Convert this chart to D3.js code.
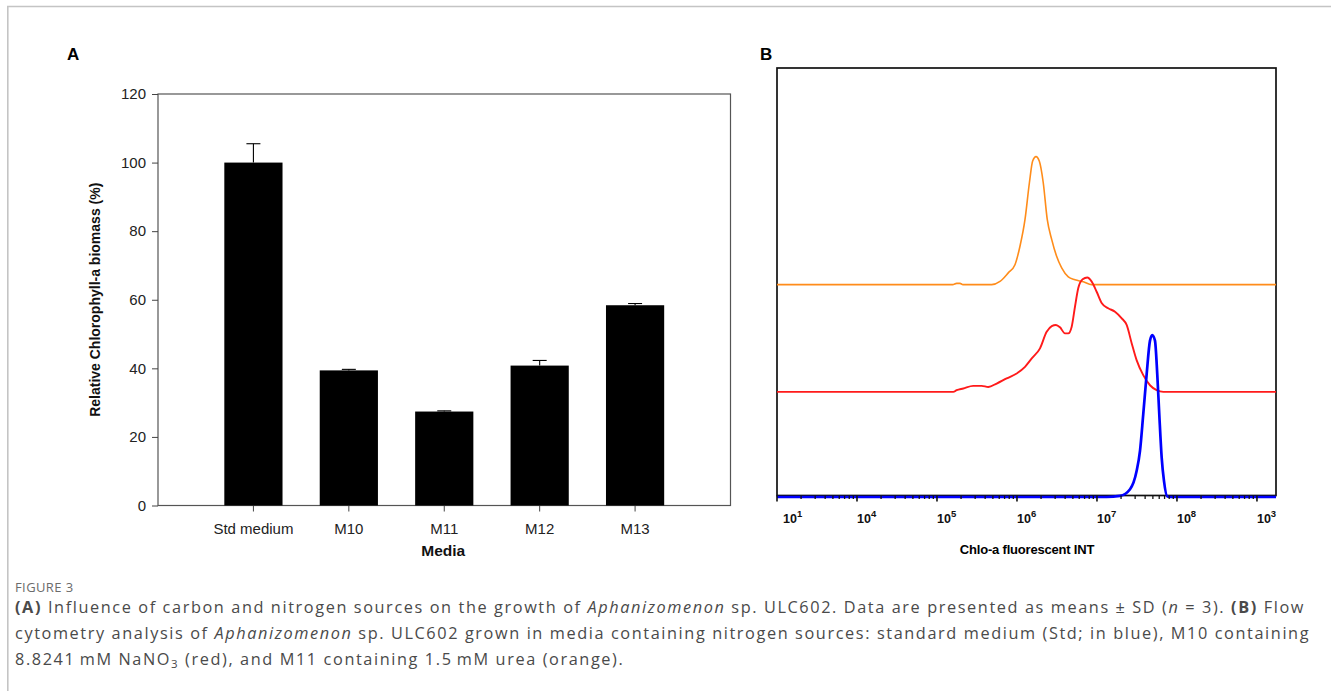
<!DOCTYPE html>
<html>
<head>
<meta charset="utf-8">
<script src="https://cdn.jsdelivr.net/npm/d3@7"></script>
<style>
  body { margin: 0; background: #fff; }
  svg { display: block; }
</style>
</head>
<body>
<svg width="1331" height="691"></svg>
<script>
//## DATA ##
//-- Panel A: chlorophyll-a biomass per medium --
const media = ['Std medium', 'M10', 'M11', 'M12', 'M13']
const chlMean = [100, 39.4, 27.4, 40.8, 58.4]
const chlSd = [5.5, 0.3, 0.2, 1.5, 0.5]
const yTicksA = [0, 20, 40, 60, 80, 100, 120]

//-- Panel B: flow cytometry histograms [intensity, count] --
const stdCurve = [[1e3, 0], [1.32e7, 0], [1.94e7, 0.5], [2.59e7, 3.6], [3.13e7, 12.1], [3.45e7, 21.5],
  [3.79e7, 38.6], [4.18e7, 57.3], [4.6e7, 72.9], [4.91e7, 75.5], [5.31e7, 72.9], [5.67e7, 57.3],
  [6.01e7, 38.6], [6.44e7, 18.4], [6.88e7, 7.5], [7.57e7, 0.2], [8.18e7, 0], [1.73e9, 0]]
const m10Curve = [[1e3, 0], [1.6e5, 0], [1.76e5, 0.8], [2.13e5, 1.6], [2.84e5, 2.8], [3.62e5, 2.8],
  [4.38e5, 2.3], [5.57e5, 3.9], [7.43e5, 6.3], [9.91e5, 8.6], [1.26e6, 11.7], [1.53e6, 15.6],
  [1.94e6, 20.3], [2.35e6, 28.0], [2.72e6, 30.7], [3.07e6, 31.2], [3.45e6, 30.1], [3.98e6, 27.3],
  [4.38e6, 27.3], [4.83e6, 30.4], [5.31e6, 39.7], [5.83e6, 48.3], [6.62e6, 52.5], [7.57e6, 53.3],
  [8.59e6, 51.4], [9.91e6, 46.7], [1.15e7, 41.3], [1.38e7, 39.0], [1.68e7, 37.4], [2.04e7, 34.3],
  [2.35e7, 31.2], [2.72e7, 22.6], [3.13e7, 14.8], [3.79e7, 7.8], [4.6e7, 3.1], [5.57e7, 0.8],
  [6.75e7, 0], [1.73e9, 0]]
const m11Curve = [[1e3, 0], [1.57e5, 0], [1.76e5, 0.6], [1.94e5, 0.6], [2.11e5, 0], [4.83e5, 0],
  [6.13e5, 1.5], [7.78e5, 5.5], [9.44e5, 9.3], [1.09e6, 17.9], [1.26e6, 30.4], [1.43e6, 47.5],
  [1.57e6, 57.6], [1.73e6, 59.7], [1.9e6, 57.6], [2.13e6, 47.5], [2.39e6, 30.4], [2.72e6, 21.0],
  [3.13e6, 13.2], [3.62e6, 7.8], [4.38e6, 3.6], [5.31e6, 2.3], [6.75e6, 1.3], [8.59e6, 0], [1.73e9, 0]]
const curveNames = ['m11', 'm10', 'std']
const curveColors = ['#ff8c1a', '#ff1a1a', '#0000ff']
const curveOffsets = [99, 49, 0]
const curveWidths = [1.6, 1.9, 2.7]
const xTickDecades = [1e3, 1e4, 1e5, 1e6, 1e7, 1e8, 1e9]
const xTickExponents = ['1', '4', '5', '6', '7', '8', '3']

//-- Caption --
const captionLines = [
  [['(A)', 'b'], [' Influence of carbon and nitrogen sources on the growth of ', ''], ['Aphanizomenon', 'i'],
    [' sp. ULC602. Data are presented as means ± SD (', ''], ['n', 'i'], [' = 3). ', ''], ['(B)', 'b'], [' Flow', '']],
  [['cytometry analysis of ', ''], ['Aphanizomenon', 'i'],
    [' sp. ULC602 grown in media containing nitrogen sources: standard medium (Std; in blue), M10 containing', '']],
  [['8.8241\u2009mM NaNO', ''], ['3', 'sub'], [' (red), and M11 containing 1.5\u2009mM urea (orange).', '']]
]

//## SETUP ##
const svg = d3.select('svg')
const chartFont = "'Liberation Sans', Arial, sans-serif"

// figure frame (light border top & left)
svg.append('line').attr('x1', 7).attr('x2', 1331).attr('y1', 6.5).attr('y2', 6.5)
  .attr('stroke', '#c4c4c4').attr('stroke-width', 1.6)
svg.append('line').attr('x1', 7.8).attr('x2', 7.8).attr('y1', 6).attr('y2', 691)
  .attr('stroke', '#c4c4c4').attr('stroke-width', 1.6)

//## PANEL A ##
const a = { left: 158, right: 730.5, top: 94, bottom: 505.5 }
const stepA = (a.right - a.left) / 6
const scaleYA = d3.scaleLinear().domain([0, 120]).range([a.bottom, a.top])
const scaleXA = d3.scaleBand()
  .domain(media)
  .range([a.left + stepA / 2, a.right - stepA / 2])
  .paddingInner(0.39)
  .paddingOuter(0.195)

const gA = svg.append('g').attr('font-family', chartFont)

gA.append('rect')
  .attr('x', a.left).attr('y', a.top)
  .attr('width', a.right - a.left).attr('height', a.bottom - a.top)
  .attr('fill', 'none').attr('stroke', '#555').attr('stroke-width', 1.2)

const yAxisA = gA.append('g')
  .attr('transform', 'translate(' + a.left + ',0)')
  .call(d3.axisLeft(scaleYA).tickValues(yTicksA).tickSize(6).tickPadding(6))
yAxisA.select('.domain').remove()
yAxisA.selectAll('line').attr('stroke', '#444')
yAxisA.selectAll('text').attr('font-size', 15).attr('fill', '#222').attr('font-family', chartFont)

const xAxisA = gA.append('g')
  .attr('transform', 'translate(0,' + a.bottom + ')')
  .call(d3.axisBottom(scaleXA).tickSize(6).tickPadding(12))
xAxisA.select('.domain').remove()
xAxisA.selectAll('line').attr('stroke', '#444')
xAxisA.selectAll('text').attr('font-size', 15).attr('fill', '#222').attr('font-family', chartFont)

gA.selectAll('.bar').data(media)
  .enter().append('rect')
  .attr('class', 'bar')
  .attr('x', d => scaleXA(d))
  .attr('y', (d, i) => scaleYA(chlMean[i]))
  .attr('width', scaleXA.bandwidth())
  .attr('height', (d, i) => scaleYA(0) - scaleYA(chlMean[i]))
  .attr('fill', '#000')

// error bars (upper half only)
const errG = gA.selectAll('.err').data(media).enter().append('g').attr('class', 'err')
  .attr('stroke', '#000').attr('stroke-width', 1.1)
errG.append('line')
  .attr('x1', d => scaleXA(d) + scaleXA.bandwidth() / 2)
  .attr('x2', d => scaleXA(d) + scaleXA.bandwidth() / 2)
  .attr('y1', (d, i) => scaleYA(chlMean[i]))
  .attr('y2', (d, i) => scaleYA(chlMean[i] + chlSd[i]))
errG.append('line')
  .attr('x1', d => scaleXA(d) + scaleXA.bandwidth() / 2 - 7)
  .attr('x2', d => scaleXA(d) + scaleXA.bandwidth() / 2 + 7)
  .attr('y1', (d, i) => scaleYA(chlMean[i] + chlSd[i]))
  .attr('y2', (d, i) => scaleYA(chlMean[i] + chlSd[i]))

gA.append('text')
  .attr('transform', 'translate(100,' + ((a.top + a.bottom) / 2) + ') rotate(-90)')
  .attr('text-anchor', 'middle').attr('font-size', 14).attr('font-weight', 'bold').attr('fill', '#111')
  .text('Relative Chlorophyll-a biomass (%)')

gA.append('text')
  .attr('x', (a.left + a.right) / 2 - 1).attr('y', 556)
  .attr('text-anchor', 'middle').attr('font-size', 15.5).attr('font-weight', 'bold').attr('fill', '#111')
  .text('Media')

svg.append('text').attr('x', 67).attr('y', 60)
  .attr('font-family', chartFont).attr('font-size', 17).attr('font-weight', 'bold').text('A')

//## PANEL B ##
const b = { left: 777, right: 1276, top: 68, bottom: 495.5 }
const scaleXB = d3.scaleLog().domain([1e3, 1.73e9]).range([b.left, b.right])
const scaleYB = d3.scaleLinear().domain([0, 200]).range([497, b.top])

const gB = svg.append('g').attr('font-family', chartFont)

gB.append('rect')
  .attr('x', b.left).attr('y', b.top)
  .attr('width', b.right - b.left).attr('height', b.bottom - b.top)
  .attr('fill', 'none').attr('stroke', '#111').attr('stroke-width', 1.7)

const curves = [m11Curve, m10Curve, stdCurve]
curves.forEach((curve, i) => {
  const line = d3.line()
    .x(d => scaleXB(d[0]))
    .y(d => scaleYB(d[1] + curveOffsets[i]))
    .curve(d3.curveMonotoneX)
  gB.append('path')
    .datum(curve)
    .attr('class', 'curve-' + curveNames[i])
    .attr('d', line)
    .attr('fill', 'none')
    .attr('stroke', curveColors[i])
    .attr('stroke-width', curveWidths[i])
    .attr('stroke-linejoin', 'round')
})

// log axis ticks (major + minor), drawn over the blue baseline
const minorTicks = []
xTickDecades.forEach(dec => {
  for (let k = 2; k <= 9; k++) {
    if (dec * k <= 1.73e9) minorTicks.push(dec * k)
  }
})
gB.selectAll('.minor').data(minorTicks).enter().append('line')
  .attr('x1', d => scaleXB(d)).attr('x2', d => scaleXB(d))
  .attr('y1', b.bottom).attr('y2', b.bottom + 3.5)
  .attr('stroke', '#111').attr('stroke-width', 1.3)
gB.selectAll('.major').data(xTickDecades).enter().append('line')
  .attr('x1', d => scaleXB(d)).attr('x2', d => scaleXB(d))
  .attr('y1', b.bottom).attr('y2', b.bottom + 6)
  .attr('stroke', '#111').attr('stroke-width', 1.6)

const tickLabels = gB.selectAll('.tlab').data(xTickDecades).enter().append('text')
  .attr('x', (d, i) => scaleXB(d) + (i === 0 ? 6 : 0))
  .attr('y', 523)
  .attr('font-size', 12.5).attr('font-weight', 'bold').attr('fill', '#111')
tickLabels.append('tspan').text('10')
tickLabels.append('tspan').attr('dy', -6).attr('font-size', 9.5).text((d, i) => xTickExponents[i])

gB.append('text')
  .attr('x', 1027).attr('y', 554)
  .attr('text-anchor', 'middle').attr('font-size', 13).attr('font-weight', 'bold').attr('fill', '#000')
  .attr('letter-spacing', -0.2)
  .text('Chlo-a fluorescent INT')

svg.append('text').attr('x', 760).attr('y', 60)
  .attr('font-family', chartFont).attr('font-size', 17).attr('font-weight', 'bold').text('B')

//## CAPTION ##
const capFont = "'Open Sans', 'Noto Sans', sans-serif"
svg.append('text').attr('x', 15).attr('y', 592)
  .attr('font-family', capFont).attr('font-size', 13).attr('fill', '#6b6b6b')
  .attr('font-weight', 500).attr('letter-spacing', 0.4)
  .text('FIGURE 3')

const capY = [613, 639, 665]
captionLines.forEach((parts, li) => {
  const t = svg.append('text')
    .attr('class', 'cap')
    .attr('x', 15).attr('y', capY[li])
    .attr('font-family', capFont).attr('font-size', 16.3).attr('fill', '#4a4a4a')
  parts.forEach(([txt, style]) => {
    const s = t.append('tspan').text(txt)
    if (style === 'b') s.attr('font-weight', 'bold')
    if (style === 'i') s.attr('font-style', 'italic')
    if (style === 'sub') s.attr('font-size', 11.5).attr('dy', 3)
    if (style === '' && txt.startsWith(' (red)')) s.attr('dy', -3)
  })
})

// tune letter spacing so the first caption line spans the same width as the reference
const firstCap = svg.select('.cap').node()
const natural = firstCap.getComputedTextLength()
const chars = firstCap.textContent.length
const spacing = (1290 - natural) / chars
svg.selectAll('.cap').attr('letter-spacing', spacing)
</script>
</body>
</html>
